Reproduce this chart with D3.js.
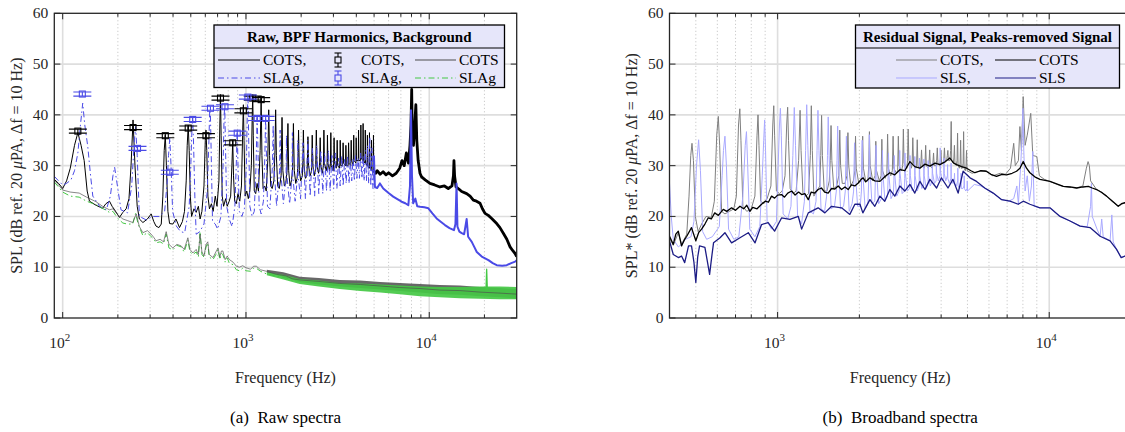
<!DOCTYPE html>
<html>
<head>
<meta charset="utf-8">
<script src="https://cdn.jsdelivr.net/npm/d3@7.9.0/dist/d3.min.js"></script>
<style>
  body { margin: 0; background: #fff; }
  svg { font-family: "Liberation Serif", "Times New Roman", serif; }
</style>
</head>
<body>
<svg id="chart" width="1125" height="432"></svg>
<script>
// ---- panel (a): raw spectra, [frequency Hz, SPL dB] ----
const cotsRaw = [[90,27.3],[95,26.5],[100,25.5],[105,27],[110,29.5],[116,34],[121,36.5],[126,34],[131,31],[136,25],[140,23],[152,22.2],[165,21.6],[172,22.5],[180,23],[186,22],[192,21.3],[204,19.8],[213,20.8],[222,21.5],[230,23.5],[236,30],[242,39],[248,30],[255,22],[262,19.5],[274,18.8],[290,19.5],[304,20.5],[314,19],[323,18.1],[335,17.8],[345,18.5],[352,24],[358,33],[363,36],[368,30],[375,21],[383,18.6],[399,18.5],[415,19.5],[434,17.8],[450,19],[462,21],[472,27],[478,34],[484,38],[490,33],[497,24],[505,20],[520,21.5],[535,20.8],[550,22],[562,19.5],[575,21],[590,26],[600,35],[605,37],[611,33],[620,24],[632,21.5],[648,22.5],[662,21],[680,24],[695,22],[712,27],[720,38],[726,44],[732,36],[742,24],[755,22],[775,23.5],[790,22],[810,23],[825,24],[838,30],[847,35],[855,28],[868,23],[885,22.5],[905,24.5],[925,23],[945,26],[960,37],[968,42],[976,35],[990,24],[1010,25],[1030,23.5],[1050,25],[1070,30],[1082,40],[1089,44],[1096,36],[1110,25],[1130,24.5],[1150,26.5],[1170,25],[1195,33],[1210,43.5],[1222,32],[1240,25.5],[1265,26],[1290,25],[1315,31],[1331,41],[1345,32],[1365,26],[1390,25.5],[1420,27],[1440,33],[1452,41],[1465,32],[1490,26],[1520,25.5],[1555,28],[1573,39.5],[1590,29],[1620,26],[1650,26.5],[1675,29],[1694,38.3],[1710,29],[1740,26],[1770,27],[1795,29],[1815,38.3],[1835,29],[1870,26.5],[1900,27.5],[1920,30],[1936,37],[1955,29],[1990,27],[2030,28],[2045,31],[2057,37],[2075,30],[2110,27.5],[2150,28],[2165,31],[2178,35.7],[2195,30],[2240,28],[2280,29],[2299,36],[2318,30],[2360,28],[2400,29.5],[2420,37],[2440,30],[2490,28.5],[2520,30],[2541,35.5],[2560,30],[2610,28.5],[2645,30],[2662,37],[2680,30.5],[2740,29],[2770,30],[2783,36],[2800,30.5],[2860,29],[2890,30.5],[2904,36.5],[2920,30],[2990,29],[3010,30.5],[3025,35.5],[3045,30.5],[3110,29.5],[3130,31],[3146,35],[3165,30],[3240,29.5],[3255,31],[3267,35],[3290,30],[3360,30],[3375,31],[3388,34.5],[3410,30.5],[3490,30],[3509,34],[3530,30],[3610,30],[3630,34.5],[3650,30.5],[3730,30],[3751,35],[3770,31],[3850,30],[3872,36],[3890,31],[3980,30.5],[3993,35.5],[4010,31],[4100,31],[4114,37],[4130,31],[4220,31],[4235,38],[4250,31.5],[4340,31],[4356,38.3],[4375,31],[4460,30.5],[4477,37],[4495,30.5],[4580,30],[4598,36],[4615,30],[4700,29.5],[4719,36.5],[4740,29.5],[4820,29.5],[4840,35],[4860,29],[4940,29],[4961,36],[4980,29],[5100,28.5],[5200,29],[5400,28.3],[5600,28.8],[5800,28.2],[6000,28.6],[6300,28],[6600,28.5],[6900,29.5],[7100,31],[7300,30],[7500,32.5],[7700,30.5],[7850,34],[7950,38],[8020,45],[8080,36],[8200,34],[8300,37],[8450,42],[8550,35],[8700,31],[8900,28.5],[9080,27.8],[9500,27.2],[10090,26.5],[10700,26.2],[11440,25.8],[12100,26],[12700,25.5],[13300,26],[13550,28],[13640,31],[13750,28],[14000,25.8],[14500,25.4],[15030,24.9],[16000,24.5],[16700,24],[17400,23.2],[18100,23],[18930,22.6],[19500,21.5],[20150,20.6],[21000,20.2],[21920,19.6],[23340,18.6],[24300,17.8],[25360,16.7],[26500,15.5],[27600,14],[28500,13.3],[29400,12.7],[30000,12.1]];

const slagRaw = [[90,27.9],[95,27],[100,26.2],[105,26.5],[111,27.2],[116,29],[121,32.5],[125,38],[128.6,42.3],[132,38],[137,33.8],[142,28],[146,24],[159,22],[173,21.3],[182,24],[188,28],[192,29.7],[197,27],[208,21.3],[226,20.7],[238,26],[245,34],[250,37.7],[255,32],[262,20],[286,19.3],[310,20],[338,20],[360,21],[372,27],[378,32],[384,35.5],[390,30],[398,21],[417,18.1],[440,17],[463,16.8],[490,22],[500,30],[506,36],[512,39.5],[518,34],[526,24],[535,16.5],[560,17],[590,18.5],[615,25],[628,35],[634,41],[640,40],[648,30],[657,19],[680,18.5],[700,17.5],[730,20],[750,30],[760,40],[766,41.5],[772,35],[785,22],[810,19.5],[840,18],[870,22],[885,30],[896,37],[905,30],[920,21],[950,20],[980,21.5],[1005,30],[1018,41],[1026,43.5],[1034,36],[1050,22],[1080,20],[1110,21],[1135,30],[1150,39.5],[1160,35],[1180,22],[1210,20.5],[1245,23],[1268,32],[1280,39.5],[1292,33],[1310,22],[1350,21.5],[1395,30],[1408,38],[1420,30],[1470,22],[1525,29],[1536,37],[1547,29],[1600,22.5],[1655,28],[1664,36],[1673,28],[1730,22.5],[1784,28],[1792,36.5],[1800,28],[1855,23],[1913,28],[1920,35],[1927,28],[1985,23.5],[2048,34.5],[2110,23.5],[2176,35],[2240,24],[2304,33.5],[2370,24],[2432,34],[2495,24.5],[2560,33],[2625,24.5],[2688,32.5],[2750,25],[2816,33],[2880,25],[2944,32],[3010,25.5],[3072,32.5],[3135,25.5],[3200,31.5],[3265,26],[3328,32],[3390,26],[3456,31.5],[3520,26.5],[3584,32],[3650,26.5],[3712,31],[3775,27],[3840,31.5],[3905,27],[3968,32],[4030,27.5],[4096,31.5],[4160,27.5],[4224,32.5],[4290,27.5],[4352,32],[4415,27],[4480,33],[4545,27],[4608,34],[4670,26.5],[4736,35.7],[4800,26],[4864,33.5],[4930,25.5],[4992,32],[5050,25.8],[5200,25.6],[5380,26.5],[5610,25.5],[6000,24.6],[6360,23.9],[6700,23.4],[7070,22.9],[7400,22.6],[7690,22.2],[7850,26],[7950,40.9],[8050,28],[8170,22.6],[8400,23.5],[8600,22],[8900,21.9],[9400,21.8],[9890,21.6],[10400,20.6],[10970,19.6],[11600,18.9],[12180,18.3],[12900,17.7],[13640,17.3],[13900,18.5],[14090,26.5],[14250,18],[14600,17],[15030,16.7],[15500,16.5],[16000,19.5],[16300,16],[17060,15],[17600,14],[18170,13],[19340,12.1],[21030,11.4],[22200,10.8],[23340,10.4],[25000,10.3],[26470,10.4],[28000,10.8],[29400,11.1],[30000,11.4]];

const cotsBg = [[90,27.2],[100,25.2],[110,24.8],[123,24.6],[135,23.8],[152,22.9],[165,22],[180,21.3],[188,21.5],[200,20.3],[213,19.5],[225,19.2],[241,18.8],[252,20.5],[262,18],[274,16.8],[290,17.2],[304,16.5],[315,15.8],[323,15.2],[340,15.5],[355,15],[367,17],[380,14.5],[399,13.8],[420,14.5],[443,14.2],[460,13.5],[482,15.8],[495,13.5],[513,12.8],[535,13.5],[550,12.5],[562,16.5],[575,13],[590,12.2],[606,14.5],[619,15],[630,12.5],[661,11.9],[685,13],[704,13.8],[720,12],[735,13.2],[748,13.2],[770,11.5],[790,12.2],[812,11.5],[850,11],[886,10.2],[920,10],[960,10.3],[1000,9.9],[1060,9.6],[1100,10.2],[1139,10.2],[1200,9.5],[1292,9.2],[1380,8.9],[1466,8.6],[1528,8.5],[1650,8.3],[1800,7.7],[1965,7.5],[2500,7.2],[3250,6.8],[4200,6.6],[5400,6.3],[6900,6.0],[8900,5.8],[11400,5.5],[14700,5.4],[18900,5.1],[24300,4.9],[30000,4.7]];
const slagBg = [[90,26.8],[100,24.8],[110,24],[123,23.8],[135,23],[152,22.3],[165,21.6],[180,20.8],[188,21],[200,19.6],[213,18.7],[225,18.5],[241,18.5],[250,20.6],[258,18.5],[274,16.2],[290,16.8],[304,16],[315,15.5],[323,14.8],[340,15],[355,14.6],[367,16.5],[380,13.8],[399,13.4],[420,14.3],[443,14],[460,13],[482,15.3],[495,13],[513,12.5],[535,13],[550,12],[562,17],[575,12.5],[590,12],[606,14],[619,14.8],[630,12],[661,11.5],[685,12.5],[704,13.5],[720,11.5],[735,12.7],[748,12.5],[770,11],[790,11.8],[812,10.8],[850,10.5],[886,9.5],[920,9.3],[960,9.8],[1000,9.3],[1060,9.2],[1100,9.8],[1139,9.8],[1200,9.2],[1292,8.7],[1380,8.5],[1466,8.2],[1528,8.1],[1650,7.9],[1800,7.4],[1965,7.2]];
// noisy upper part of the background spectra: [frequency, low, high]
const cotsBgBand = [[1300,8.9,9.5],[1600,8.1,9.0],[1965,7.1,8.1],[2500,6.6,7.9],[3250,6.2,7.5],[4200,5.9,7.4],[5400,5.6,7.1],[6900,5.3,6.9],[8900,5.0,6.7],[11400,4.7,6.5],[14700,4.6,6.4],[18900,4.3,6.1],[24300,4.1,5.9],[30000,3.8,5.7]];
const slagBgBand = [[1300,8.4,9.0],[1600,7.6,8.5],[1965,6.7,7.7],[2500,6.2,7.4],[3250,5.7,6.9],[4200,5.3,6.8],[5400,5.0,6.6],[6900,4.7,6.4],[8900,4.3,6.2],[11400,4.1,6.1],[14700,3.9,6.1],[18900,3.8,6.2],[24300,3.7,6.2],[30000,3.7,6.1]];
const slagBgSpike = [[20400,5.5],[20570,9.6],[20750,5.5]];

const cotsBpfFreq = [121, 242, 363, 484, 605, 726, 847, 968, 1089, 1210];
const cotsBpfLevel = [36.8, 37.5, 35.9, 37.4, 35.9, 43.3, 34.5, 40.8, 43.3, 43.0];
const slagBpfFreq = [128, 256, 384, 512, 640, 768, 896, 1024, 1152, 1280];
const slagBpfLevel = [44.1, 33.4, 28.7, 39.1, 41.3, 41.6, 36.4, 43.5, 39.3, 39.3];
const bpfErr = 0.4;

// ---- panel (b): broadband spectra ----
const cotsRes = [[400,15.8],[413,14.3],[431,16.8],[443,14.5],[463,16.5],[472,24],[479,32],[484,34.4],[490,31],[498,20],[510,17],[525,18.5],[545,20],[570,19.8],[585,23],[597,36],[605,39.7],[612,34],[622,21],[640,20.5],[665,21],[690,21.5],[705,24],[718,38],[726,41.2],[733,35],[745,22],[770,21],[800,21.5],[825,24],[840,36],[847,40],[854,34],[866,23],[890,22.5],[915,23.5],[945,26],[960,38],[968,41.8],[975,36],[990,25],[1015,24.5],[1040,25],[1065,28],[1080,38],[1089,41.5],[1097,35],[1112,25.5],[1140,24.5],[1170,25],[1195,31],[1210,40.9],[1220,33],[1240,24.5],[1270,24],[1300,24.5],[1320,32],[1331,41.8],[1342,33],[1360,24],[1395,25],[1430,26],[1442,32],[1452,39.9],[1462,32],[1485,25],[1520,25],[1550,27],[1563,31],[1573,37.9],[1584,31],[1610,25.5],[1650,26],[1680,28],[1694,37],[1706,30],[1730,26.5],[1770,26.5],[1800,28],[1815,36.5],[1828,30],[1860,26],[1900,27],[1925,29],[1936,35.8],[1948,29.5],[1990,26.5],[2030,27],[2045,30],[2057,35.8],[2070,29.5],[2110,27],[2150,27],[2165,30],[2178,36.7],[2192,30],[2240,27],[2285,28],[2299,34.8],[2313,29],[2370,27],[2405,28],[2420,35.2],[2435,29],[2490,27.5],[2525,28.5],[2541,36.2],[2556,29.5],[2610,28],[2645,29],[2662,35.8],[2678,29.5],[2740,28.5],[2767,29],[2783,35.8],[2800,30],[2860,29],[2887,30],[2904,37.2],[2921,30.5],[2990,29.5],[3008,31],[3025,37.2],[3043,31],[3110,29.5],[3128,30.5],[3146,35.5],[3165,30.5],[3230,29.5],[3249,30.5],[3267,35.1],[3286,30],[3350,29.5],[3370,30.5],[3388,33.1],[3407,30],[3470,29.5],[3490,30.5],[3509,34],[3528,30],[3590,29.5],[3610,30.5],[3630,33.1],[3650,30],[3710,29.5],[3731,30.5],[3751,32.5],[3771,30],[3830,30],[3852,31],[3872,33.5],[3892,30.5],[3950,30],[3973,31],[3993,33],[4013,30.5],[4070,30.5],[4094,31.5],[4114,33.5],[4134,31],[4190,31],[4215,32],[4235,33],[4255,31],[4310,31],[4336,33],[4356,38.7],[4376,31],[4430,30.5],[4457,31.5],[4477,34],[4497,30.5],[4550,30],[4578,31],[4598,36.4],[4618,30],[4670,29.5],[4699,30.5],[4719,35],[4740,29.5],[4790,29.5],[4820,30.5],[4840,36.7],[4860,29.5],[4910,29],[4940,30],[4961,33],[4985,29],[5200,28.5],[5400,28.8],[5800,29],[6200,28],[6600,28.5],[6900,28.3],[7200,29.5],[7400,34.4],[7500,30],[7700,31],[7800,37.7],[7900,33],[8020,43.6],[8150,34],[8300,36],[8550,40.3],[8700,32],[9000,31.8],[9200,28],[9600,27.3],[10060,26.9],[10800,26.2],[11270,25.9],[12100,25.7],[12620,25.6],[13300,26],[13700,29.5],[13900,30.8],[14050,30],[14200,27],[14940,25.3],[15600,24.8],[16260,24],[17000,23],[17950,22],[18500,22.4],[19000,22.7],[20000,22.5]];

const slsRes = [[400,26.6],[406,20],[413,15.5],[431,14],[443,14.5],[458,15.5],[480,16],[492,19],[503,30],[512,35.1],[520,29],[530,17],[548,15.5],[575,16],[610,18],[625,28],[632,33],[640,35.8],[648,30],[660,17.5],[690,15.5],[720,16],[745,24],[760,34],[768,36.7],[776,30],[790,17.5],[825,16],[860,18],[878,28],[889,35],[896,39],[903,33],[915,19],[950,17.5],[990,19],[1005,30],[1016,38],[1024,41.3],[1032,36],[1048,20.5],[1090,19.5],[1120,22],[1138,32],[1152,41.45],[1164,34],[1185,20],[1225,18.5],[1255,23],[1268,33],[1280,42],[1292,34],[1315,21],[1355,20.5],[1385,23],[1397,33],[1408,40.9],[1420,33],[1445,21.5],[1490,21],[1515,24],[1526,32],[1536,39.6],[1547,32],[1575,21.5],[1620,22],[1645,25],[1655,31],[1664,37.8],[1674,31],[1705,21.5],[1750,22],[1775,25],[1783,31],[1792,35.8],[1801,30],[1835,21],[1880,22.5],[1905,25],[1912,30],[1920,34.5],[1929,29.5],[1970,22],[2015,22],[2035,25],[2040,30],[2048,35],[2057,29],[2100,21.5],[2150,22.5],[2165,27],[2170,31],[2176,36.1],[2185,30],[2225,22.5],[2280,23],[2290,27],[2297,30.5],[2304,34],[2313,29],[2355,22.5],[2410,23.5],[2420,27],[2426,30],[2432,33],[2441,28.5],[2485,23],[2540,24],[2550,27],[2555,29.5],[2560,32.5],[2570,28],[2615,23.5],[2670,24.5],[2680,27],[2688,32],[2697,28.5],[2745,24],[2800,25],[2808,27.5],[2816,33],[2825,28.5],[2875,24.5],[2930,25],[2937,27.5],[2944,32.5],[2953,28.5],[3005,25],[3060,25.5],[3066,28],[3072,32],[3082,28],[3130,25],[3190,25.5],[3195,28],[3200,31.8],[3210,28],[3265,25],[3320,26],[3328,31.5],[3338,28],[3395,25.5],[3450,26],[3456,31.3],[3466,28],[3525,25.5],[3580,26.5],[3584,31],[3594,28],[3650,26],[3705,27],[3712,30.5],[3722,28.5],[3780,26.5],[3835,27],[3840,30.2],[3850,28.5],[3905,27],[3962,28],[3968,33.5],[3978,29],[4030,27],[4090,27.5],[4096,31.5],[4106,28.5],[4160,27],[4218,28],[4224,30.2],[4234,27.5],[4290,26.5],[4346,27.5],[4352,30.5],[4362,27],[4420,26.5],[4474,27.5],[4480,28.5],[4490,26.5],[4550,26],[4602,27],[4608,29.5],[4618,26],[4680,25.5],[4730,26.5],[4736,28.5],[4746,25.5],[4810,25.5],[4858,26],[4864,28],[4874,25.5],[4930,25],[4986,25.5],[4992,27],[5002,25],[5300,26.3],[5600,26],[5800,25.5],[6200,24.6],[6700,23.3],[7100,23],[7400,23.5],[7600,26],[7700,22.4],[7850,30],[7950,36],[8000,41.3],[8060,33],[8150,25],[8300,28],[8450,23],[8600,26],[8700,32.8],[8800,22],[9240,21.7],[10060,21.7],[10960,20],[11930,19.1],[12990,18.1],[13800,18],[14200,22],[14300,26.5],[14400,20],[15000,17.5],[15400,16.1],[15600,19.5],[15800,16],[16750,15.2],[17000,20.3],[17200,15],[17700,13.5],[18400,11.9],[19000,12.2],[20000,12]];

const cotsBroad = [[400,16.1],[413,14.5],[422,16.5],[431,17.1],[443,14.2],[455,15.5],[463,16.1],[482,17.8],[500,15.2],[512,16.8],[525,17.5],[540,18.5],[555,19.7],[570,19.5],[587,20.7],[605,20.2],[631,21.4],[650,21],[677,21.7],[700,21.2],[727,22],[750,21.5],[770,22.2],[791,21],[810,21.8],[840,21.5],[873,22.4],[900,23],[925,22.8],[950,24],[975,23.6],[1000,24.2],[1034,24.3],[1060,23.8],[1090,24.6],[1127,25],[1160,24.2],[1195,24.8],[1226,24.3],[1260,24.5],[1297,23.3],[1330,24.8],[1370,24.6],[1410,25.3],[1450,25.6],[1490,24.8],[1535,24.6],[1580,25.5],[1625,25.4],[1671,26],[1720,25.3],[1770,25.8],[1819,25.3],[1870,26.2],[1925,26],[1981,26.6],[2030,27.3],[2066,27.6],[2110,26.8],[2187,27.6],[2280,27],[2381,26.9],[2480,27.8],[2590,28.6],[2700,28.2],[2820,29.2],[2940,29],[3069,30.8],[3200,29.8],[3340,29.5],[3490,30.3],[3636,29.9],[3800,30.5],[3957,30.2],[4150,30.8],[4307,31.5],[4450,30.5],[4560,30.2],[4760,29.8],[4964,29.5],[5150,29],[5326,28.6],[5600,29],[5875,28.9],[6100,28.3],[6396,27.9],[6700,28.3],[6962,28.2],[7300,28.5],[7580,28.9],[7800,29.5],[8020,30.8],[8250,29.5],[8490,28.6],[8850,27.8],[9240,27.3],[9650,27.1],[10060,26.9],[10650,26.4],[11270,25.9],[11950,25.8],[12620,25.6],[13300,25.8],[13930,25.9],[14400,25.6],[14940,25.3],[15600,24.7],[16260,24],[17100,23],[17950,22],[18450,22.5],[19000,22.7],[20000,22.6]];

const slsBroad = [[400,15.2],[413,12.5],[431,11.9],[443,12.2],[455,10.9],[470,14.2],[482,14.2],[492,11],[500,7],[508,12],[516,14.2],[540,13.9],[552,11],[562,8.6],[572,12],[581,14.8],[614,15.8],[640,16.8],[677,14.8],[727,15.8],[780,16.8],[826,14.8],[873,18.4],[923,18.8],[975,17.1],[1034,19.7],[1110,19.4],[1192,20],[1226,17.5],[1297,20.7],[1410,21.7],[1493,20.7],[1580,22],[1720,21.7],[1845,20.4],[1925,22.4],[2010,22.4],[2060,20.7],[2187,23.3],[2280,22],[2381,24],[2480,23],[2590,25.3],[2700,24],[2820,26],[2940,25],[3069,26.3],[3200,24.6],[3340,26.9],[3490,25.3],[3636,27.3],[3850,25.6],[4010,27.6],[4240,25.6],[4420,27.3],[4620,24.6],[4820,28.9],[5110,27.6],[5400,26.9],[5790,25.6],[6220,24.6],[6680,23.3],[7170,23],[7690,22.4],[8020,23],[8490,22.4],[9240,21.7],[10060,21.7],[10960,20],[11930,19.1],[12990,18.1],[14130,17.8],[15390,16.1],[16750,15.2],[17700,13.5],[18400,11.9],[19000,12.2],[20000,12]];

const yTicks = [0, 10, 20, 30, 40, 50, 60];
const majorFreqs = [100, 1000, 10000];

// colours
const cBlack = '#000000', cBlue = '#4a4ae6', cGray = '#4d4d4d', cGreen = '#44c844';
const cResGray = '#7f7f7f', cResBlue = '#a9a9ff', cNavy = '#1c1c85';
const axisCol = '#262626';

const svg = d3.select('#chart');

function makePanel(cfg) {
    const x = d3.scaleLog().domain(cfg.domain).range([cfg.left, cfg.right]);
    const y = d3.scaleLinear().domain([0, 60]).range([cfg.bottom, cfg.top]);
    const g = svg.append('g');
    const clipId = 'clip-' + cfg.id;
    svg.append('clipPath').attr('id', clipId)
        .append('rect')
        .attr('x', cfg.left).attr('y', cfg.top)
        .attr('width', cfg.right - cfg.left).attr('height', cfg.bottom - cfg.top);

    // grid
    const inDomain = (t) => t > cfg.domain[0] && t < cfg.domain[1];
    const ticks = x.ticks().filter(inDomain);
    const majors = majorFreqs.filter(inDomain);
    ticks.forEach((t) => {
        const major = majors.includes(t);
        g.append('line')
            .attr('x1', x(t)).attr('x2', x(t)).attr('y1', cfg.top).attr('y2', cfg.bottom)
            .attr('stroke', major ? '#dedede' : '#b8b8b8')
            .attr('stroke-width', major ? 1.6 : 0.9)
            .attr('stroke-dasharray', major ? null : '1,2.5');
    });
    yTicks.slice(1, -1).forEach((v) => {
        g.append('line')
            .attr('x1', cfg.left).attr('x2', cfg.right).attr('y1', y(v)).attr('y2', y(v))
            .attr('stroke', '#dedede').attr('stroke-width', 1.6);
    });

    const plot = g.append('g').attr('clip-path', `url(#${clipId})`);
    const axes = svg.append('g');

    // frame + ticks
    axes.append('rect')
        .attr('x', cfg.left).attr('y', cfg.top)
        .attr('width', cfg.right - cfg.left).attr('height', cfg.bottom - cfg.top)
        .attr('fill', 'none').attr('stroke', axisCol).attr('stroke-width', 1.3);
    ticks.forEach((t) => {
        const len = majors.includes(t) ? 6 : 3.5;
        axes.append('line').attr('x1', x(t)).attr('x2', x(t))
            .attr('y1', cfg.bottom).attr('y2', cfg.bottom - len)
            .attr('stroke', axisCol).attr('stroke-width', 1);
        axes.append('line').attr('x1', x(t)).attr('x2', x(t))
            .attr('y1', cfg.top).attr('y2', cfg.top + len)
            .attr('stroke', axisCol).attr('stroke-width', 1);
    });
    yTicks.forEach((v) => {
        axes.append('line').attr('x1', cfg.left).attr('x2', cfg.left + 6)
            .attr('y1', y(v)).attr('y2', y(v)).attr('stroke', axisCol);
        axes.append('line').attr('x1', cfg.right).attr('x2', cfg.right - 6)
            .attr('y1', y(v)).attr('y2', y(v)).attr('stroke', axisCol);
        axes.append('text')
            .attr('x', cfg.left - 6).attr('y', y(v) + 5)
            .attr('text-anchor', 'end').attr('font-size', 15.5)
            .attr('fill', axisCol).text(v);
    });
    majors.forEach((t) => {
        const lbl = axes.append('text')
            .attr('x', x(t) - 3).attr('y', cfg.bottom + 30)
            .attr('text-anchor', 'middle').attr('font-size', 15.5).attr('fill', axisCol);
        lbl.append('tspan').text('10');
        lbl.append('tspan').attr('dy', -7).attr('font-size', 11).text(Math.log10(t));
    });

    // axis labels
    const midX = (cfg.left + cfg.right) / 2;
    axes.append('text')
        .attr('x', midX).attr('y', cfg.bottom + 65)
        .attr('text-anchor', 'middle').attr('font-size', 16).attr('fill', axisCol)
        .text('Frequency (Hz)');
    const yl = axes.append('text')
        .attr('transform', `translate(${cfg.ylabX},${(cfg.top + cfg.bottom) / 2}) rotate(-90)`)
        .attr('text-anchor', 'middle').attr('font-size', 16).attr('fill', axisCol);
    yl.append('tspan').text(cfg.ylabel + ' (dB ref. 20 ');
    yl.append('tspan').attr('font-style', 'italic').text('\u03bc');
    yl.append('tspan').text('PA, \u0394f = 10 Hz)');
    axes.append('text')
        .attr('x', midX).attr('y', cfg.bottom + 105)
        .attr('text-anchor', 'middle').attr('font-size', 17).attr('fill', '#000')
        .text(cfg.caption);

    return { x, y, plot, axes };
}

function drawLine(p, data, color, width, dash, opacity) {
    const line = d3.line().x((d) => p.x(d[0])).y((d) => p.y(d[1]));
    p.plot.append('path')
        .attr('d', line(data))
        .attr('fill', 'none').attr('stroke', color)
        .attr('stroke-width', width)
        .attr('stroke-opacity', opacity || 1)
        .attr('stroke-linejoin', 'round')
        .attr('stroke-dasharray', dash || null);
}

function drawBand(p, data, color, opacity) {
    const area = d3.area().x((d) => p.x(d[0])).y0((d) => p.y(d[1])).y1((d) => p.y(d[2]));
    p.plot.append('path').attr('d', area(data))
        .attr('fill', color).attr('fill-opacity', opacity).attr('stroke', 'none');
}

function drawErrorbars(p, freqs, levels, color) {
    freqs.forEach((f, i) => {
        const cx = p.x(f), cy = p.y(levels[i]);
        const y0 = p.y(levels[i] - bpfErr), y1 = p.y(levels[i] + bpfErr), cw = 9;
        const g = p.plot.append('g').attr('stroke', color).attr('fill', 'none').attr('stroke-width', 1.1);
        g.append('line').attr('x1', cx).attr('x2', cx).attr('y1', y0).attr('y2', y1);
        g.append('line').attr('x1', cx - cw).attr('x2', cx + cw).attr('y1', y0).attr('y2', y0);
        g.append('line').attr('x1', cx - cw).attr('x2', cx + cw).attr('y1', y1).attr('y2', y1);
        g.append('rect').attr('x', cx - 3).attr('y', cy - 3).attr('width', 6).attr('height', 6);
    });
}

function drawLegend(cfg) {
    const g = svg.append('g');
    g.append('rect').attr('x', cfg.x).attr('y', cfg.y).attr('width', cfg.w).attr('height', cfg.h)
        .attr('fill', '#e6e6fa').attr('stroke', '#000').attr('stroke-width', 1.3);
    g.append('line').attr('x1', cfg.x).attr('x2', cfg.x + cfg.w)
        .attr('y1', cfg.y + 23).attr('y2', cfg.y + 23).attr('stroke', '#000').attr('stroke-width', 1.1);
    g.append('text').attr('x', cfg.x + cfg.w / 2).attr('y', cfg.y + 17)
        .attr('text-anchor', 'middle').attr('font-size', 15).attr('font-weight', 'bold')
        .text(cfg.title);
    cfg.items.forEach((it) => {
        const cy = cfg.y + 23 + (it.row === 0 ? 12 : 30);
        if (it.kind === 'err') {
            const e = g.append('g').attr('stroke', it.color).attr('fill', 'none').attr('stroke-width', 1.1);
            e.append('line').attr('x1', it.x0).attr('x2', it.x0).attr('y1', cy - 7).attr('y2', cy + 7);
            e.append('line').attr('x1', it.x0 - 3.5).attr('x2', it.x0 + 3.5).attr('y1', cy - 7).attr('y2', cy - 7);
            e.append('line').attr('x1', it.x0 - 3.5).attr('x2', it.x0 + 3.5).attr('y1', cy + 7).attr('y2', cy + 7);
            e.append('rect').attr('x', it.x0 - 3).attr('y', cy - 3).attr('width', 6).attr('height', 6)
                .attr('fill', '#e6e6fa');
        } else {
            g.append('line').attr('x1', it.x0).attr('x2', it.x1).attr('y1', cy).attr('y2', cy)
                .attr('stroke', it.color).attr('stroke-width', it.width || 1)
                .attr('stroke-dasharray', it.dash || null);
        }
        g.append('text').attr('x', it.tx).attr('y', cy + 5).attr('font-size', 15.5).text(it.label);
    });
}

// ---- panel (a) ----
const pa = makePanel({ id: 'a', left: 54.3, right: 516.7, top: 13.3, bottom: 318,
    domain: [90, 30000], ylabX: 22, ylabel: 'SPL', caption: '(a)\u00a0\u00a0Raw spectra' });
const dashDot = '6,3,1.5,3';
drawLine(pa, cotsRaw, cBlack, 1);
drawLine(pa, cotsRaw.filter((d) => d[0] >= 4980), cBlack, 2.8);
drawLine(pa, slagRaw.filter((d) => d[0] <= 5050), cBlue, 1, dashDot);
drawLine(pa, slagRaw.filter((d) => d[0] >= 4992), cBlue, 2);
// background: gray band underneath, green band over it, gray trace showing through
drawBand(pa, cotsBgBand, cGray, 0.85);
drawLine(pa, slagBg, cGreen, 1, dashDot);
drawBand(pa, slagBgBand, cGreen, 0.92);
drawLine(pa, cotsBg, cGray, 0.9, null, 0.75);
drawLine(pa, slagBgSpike, cGreen, 1.3);
drawErrorbars(pa, cotsBpfFreq, cotsBpfLevel, cBlack);
drawErrorbars(pa, slagBpfFreq, slagBpfLevel, cBlue);

drawLegend({ x: 214, y: 25, w: 290.5, h: 62.5, title: 'Raw, BPF Harmonics, Background', items: [
    { row: 0, x0: 218, x1: 260, tx: 263, color: cBlack, label: 'COTS,' },
    { row: 1, x0: 218, x1: 260, tx: 263, color: cBlue, dash: dashDot, label: 'SLAg,' },
    { row: 0, kind: 'err', x0: 338, tx: 361, color: cBlack, label: 'COTS,' },
    { row: 1, kind: 'err', x0: 338, tx: 361, color: cBlue, label: 'SLAg,' },
    { row: 0, x0: 415, x1: 456, tx: 459, color: cGray, label: 'COTS' },
    { row: 1, x0: 415, x1: 456, tx: 459, color: cGreen, dash: dashDot, label: 'SLAg' }
] });

// ---- panel (b) ----
const pb = makePanel({ id: 'b', left: 669.5, right: 1131, top: 13.3, bottom: 318,
    domain: [400, 20000], ylabX: 637, ylabel: 'SPL*', caption: '(b)\u00a0\u00a0Broadband spectra' });
drawLine(pb, cotsRes, cResGray, 1);
drawLine(pb, slsRes, cResBlue, 1);
drawLine(pb, cotsBroad, cBlack, 1.3);
drawLine(pb, slsBroad, cNavy, 1.3);

drawLegend({ x: 855.5, y: 25, w: 264, h: 63, title: 'Residual Signal, Peaks-removed Signal', items: [
    { row: 0, x0: 896, x1: 937, tx: 940, color: cResGray, label: 'COTS,' },
    { row: 1, x0: 896, x1: 937, tx: 940, color: cResBlue, label: 'SLS,' },
    { row: 0, x0: 995, x1: 1036, tx: 1039, color: cBlack, label: 'COTS' },
    { row: 1, x0: 995, x1: 1036, tx: 1039, color: cNavy, label: 'SLS' }
] });
</script>
</body>
</html>
